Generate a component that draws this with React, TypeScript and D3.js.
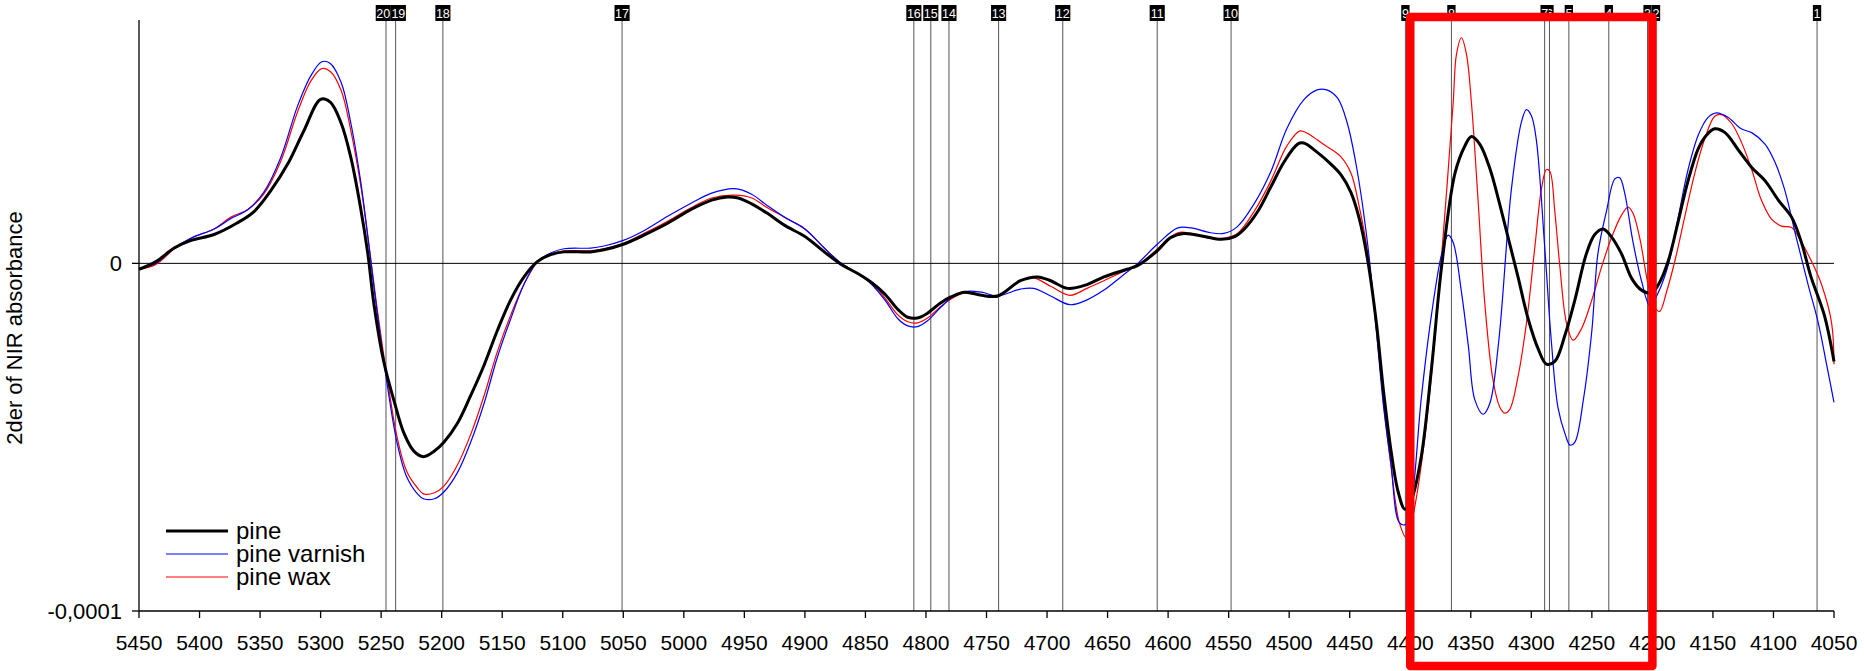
import React from 'react';
import * as d3 from 'd3';

const W = 1864;
const H = 671;
const UNIT = 1e-6;

// [wavenumber, value in 1e-6 units]
const pine: [number, number][] = [
  [5450, -1.7], [5436, 0.5], [5421, 4.4], [5407, 6.6], [5388, 8.3], [5369, 11.6], [5355, 14.9], [5341, 21],
  [5327, 28.7], [5314, 38], [5300, 47.2], [5292, 46.4], [5283, 40.3], [5275, 30.4], [5267, 16], [5261, 2.8],
  [5256, -11.6], [5248, -28], [5239, -40], [5231, -49], [5223, -54], [5215, -55.6], [5206, -54], [5198, -51.4],
  [5187, -46], [5176, -38], [5165, -29.3], [5154, -19.3], [5143, -10.5], [5132, -3.9], [5121, 0.5], [5110, 2.5],
  [5099, 3.3], [5077, 3.3], [5066, 3.9], [5050, 5.5], [5033, 8.1], [5013, 11.6], [4994, 15.5], [4977, 18.2],
  [4964, 19.1], [4955, 18.8], [4944, 17.1], [4931, 14.4], [4917, 11], [4900, 7.7], [4884, 3.3], [4870, -0.3],
  [4856, -3], [4845, -5.5], [4834, -8.8], [4823, -13.3], [4815, -15.5], [4807, -15.7], [4799, -14.4], [4788, -11.4],
  [4779, -9.6], [4768, -8.3], [4754, -9.2], [4741, -9.4], [4722, -5], [4708, -3.9], [4697, -5], [4683, -7.2],
  [4667, -6.1], [4653, -3.9], [4634, -1.7], [4625, -0.6], [4609, 3.6], [4598, 7.4], [4587, 8.6], [4570, 7.7],
  [4556, 6.9], [4545, 7.7], [4537, 9.9], [4526, 14.9], [4515, 22.1], [4504, 29.3], [4493, 34.3], [4488, 34.6],
  [4477, 32], [4466, 28.7], [4457, 25.4], [4449, 20.4], [4442, 12.7], [4435, 0.6], [4428, -17.1], [4422, -37],
  [4416, -53.6], [4410, -65.7], [4404.5, -70.7], [4399, -68], [4391, -55.8], [4382.5, -30.4], [4374, -0.6], [4363, 26],
  [4355, 33.7], [4349.5, 36.5], [4342.6, 34.3], [4334, 27], [4327, 18.2], [4319, 7.2], [4311, -3.9], [4302.6, -16],
  [4294, -24.9], [4287.5, -29], [4280.6, -28.2], [4272, -20.4], [4264, -10.5], [4254.5, 2.8], [4247.6, 8.3], [4240.7, 9.9],
  [4234, 7.7], [4225.6, 2.8], [4217, -4.4], [4209, -7.7], [4200.8, -8.5], [4195, -6.1], [4187, 0.6], [4179, 11.6],
  [4170.5, 23.8], [4162, 33.1], [4155, 37], [4148.5, 38.7], [4140, 37.6], [4129, 32.6], [4118, 27.6], [4107, 23.8],
  [4096, 18.2], [4085, 13.3], [4077, 6.1], [4069, -3.9], [4058, -14.9], [4050, -28.2],
];

const pineVarnish: [number, number][] = [
  [5450, -1.7], [5436, 0], [5421, 4.4], [5406, 7.4], [5388, 9.9], [5374, 12.9], [5360, 15.5], [5347, 20.4],
  [5333, 30.4], [5319, 45.3], [5308, 54], [5299, 58], [5292, 57.5], [5283, 52], [5275, 40.3], [5267, 23.8],
  [5260, 5], [5253, -14.9], [5245, -34.8], [5237, -51.4], [5229, -61.3], [5220, -66.3], [5215, -67.7], [5206, -67.7],
  [5198, -65.7], [5187, -60.2], [5176, -51.4], [5165, -40.3], [5154, -27], [5143, -16], [5132, -6], [5121, 0.5],
  [5110, 3], [5099, 4.2], [5077, 4.4], [5066, 5], [5050, 6.6], [5033, 9.4], [5013, 13.6], [4994, 17.3],
  [4977, 20.2], [4958, 21.5], [4944, 19.9], [4931, 16.6], [4917, 13.3], [4900, 9.9], [4884, 4.4], [4870, 0],
  [4856, -3], [4845, -6], [4834, -10.5], [4823, -16], [4815, -18], [4807, -18.2], [4799, -16.6], [4788, -12.7],
  [4779, -9.9], [4768, -8.1], [4754, -8.3], [4741, -9.4], [4722, -7.4], [4711, -7.2], [4697, -9.4], [4681, -11.9],
  [4667, -10.5], [4653, -7.7], [4639, -3.9], [4625, 0], [4609, 5.5], [4592, 10.2], [4581, 10.2], [4565, 8.8],
  [4554, 8.6], [4543, 10.5], [4529, 17.1], [4515, 26.5], [4502, 38.7], [4488, 47], [4477, 49.9], [4469, 49.9],
  [4460, 47.5], [4452, 40.3], [4444, 27], [4435, 5], [4428, -19.3], [4422, -41.4], [4416, -57.5], [4409, -74.6],
  [4404, -75.1], [4399, -69], [4391, -39.2], [4382.5, -14.9], [4374, 2.8], [4368.7, 8.1], [4364.6, 6.1], [4357.7, -8.3],
  [4352, -23.8], [4346.7, -39.2], [4339.8, -43.4], [4334.3, -40.3], [4327, -22.7], [4316.4, 21.5], [4308, 40.9], [4304, 44.2],
  [4300, 42.5], [4296, 35.9], [4289, 5], [4283.4, -22.7], [4278, -41.4], [4272, -49.2], [4268, -52.3], [4264, -51.4],
  [4257, -39.2], [4250, -19.3], [4245, 2.8], [4238, 14.9], [4231, 24.3], [4227, 24.6], [4223, 20.4], [4216, 6.1],
  [4209, -5], [4202, -12.2], [4195, -8.3], [4187, -0.6], [4179, 12.7], [4170.5, 27], [4162, 37], [4154, 42],
  [4147, 43.3], [4137.6, 42], [4126.6, 38.7], [4118, 37.6], [4107, 34.3], [4099, 29.3], [4091, 21.5], [4081, 7.2],
  [4071.4, -6.1], [4063, -17.1], [4056, -29.3], [4050, -40],
];

const pineWax: [number, number][] = [
  [5450, -1.7], [5436, -0.3], [5421, 4.1], [5406, 7.4], [5388, 9.9], [5374, 13.3], [5360, 15.5], [5347, 19.9],
  [5333, 29.3], [5319, 43.6], [5308, 52.5], [5299, 56], [5292, 55.2], [5283, 49.7], [5275, 38.1], [5267, 22.7],
  [5260, 5], [5253, -13.8], [5245, -33], [5237, -49.7], [5229, -59.7], [5220, -64.6], [5215, -66.3], [5206, -66],
  [5198, -64], [5187, -58], [5176, -49.2], [5165, -38.1], [5154, -25.4], [5143, -14.9], [5132, -6], [5121, 0.3],
  [5110, 2.6], [5099, 3.6], [5077, 3.6], [5066, 4.2], [5050, 5.7], [5033, 8.6], [5013, 12.2], [4994, 16],
  [4977, 18.8], [4958, 19.6], [4944, 18.8], [4931, 16], [4917, 13.3], [4900, 9.9], [4884, 4.4], [4870, 0],
  [4856, -3], [4845, -5.5], [4834, -9.9], [4823, -14.9], [4815, -16.8], [4807, -17.1], [4799, -15.8], [4788, -12.5],
  [4779, -10.2], [4768, -8.5], [4754, -9.2], [4741, -9.7], [4722, -5], [4711, -4.2], [4697, -6.6], [4681, -9.2],
  [4667, -7.2], [4653, -5], [4634, -1.9], [4625, -0.6], [4609, 4.1], [4592, 8.8], [4581, 8.6], [4565, 7.2],
  [4554, 7.2], [4543, 8.5], [4529, 14.9], [4515, 23.8], [4502, 33.7], [4491, 38.1], [4483, 37], [4472, 34.3],
  [4458, 30.9], [4449, 26], [4442, 16], [4435, 2.8], [4428, -18.2], [4422, -40.3], [4416, -58], [4409, -74.6],
  [4403, -79], [4397.6, -72.4], [4388, -50.3], [4380, -22.7], [4371.5, 13.8], [4364.6, 45.9], [4361.8, 60.2], [4357.7, 64.9],
  [4353.6, 60.2], [4349.4, 45.9], [4344, 18.2], [4338.4, -11.6], [4331.6, -33.7], [4326, -41.4], [4322, -43.1], [4317.8, -42],
  [4311, -32.6], [4304, -17.1], [4297, 5], [4291.6, 21.5], [4287.5, 27], [4284.7, 26.5], [4280.6, 14.9], [4276.5, -0.6],
  [4271, -17.1], [4265.5, -22.1], [4258.6, -18.8], [4250, -10.5], [4242, -1.1], [4234, 7.2], [4225.6, 13.8], [4220, 16.2],
  [4216, 14.4], [4210.4, 7.2], [4203.5, -6.1], [4198, -12.7], [4194, -13.8], [4188.4, -8.3], [4181.5, 0.6], [4173, 13.8],
  [4165, 25.9], [4156.7, 35.9], [4148.5, 42.3], [4143, 42.8], [4134.7, 40.3], [4126.4, 34.8], [4118, 27], [4110, 18.2],
  [4101.6, 12.7], [4093.4, 10.7], [4085, 10.3], [4076.9, 6.1], [4068.6, 0.6], [4060.3, -6.1], [4052, -17.1], [4050, -29],
];

const xTickValues = [5450, 5400, 5350, 5300, 5250, 5200, 5150, 5100, 5050, 5000, 4950, 4900, 4850, 4800, 4750, 4700, 4650, 4600, 4550, 4500, 4450, 4400, 4350, 4300, 4250, 4200, 4150, 4100, 4050];
const yTickValues = [0, -0.0001];
const yTickLabels = ['0', '-0,0001'];
const markerIds = ['1', '2', '3', '4', '5', '6', '7', '8', '9', '10', '11', '12', '13', '14', '15', '16', '17', '18', '19', '20'];
const markerWn = [4064, 4197, 4204, 4236, 4269, 4285, 4289, 4366, 4404, 4548, 4609, 4687, 4740, 4781, 4796, 4810, 5051, 5199, 5238, 5246];
const legendLabels = ['pine', 'pine varnish', 'pine wax'];
const seriesColors = ['#000000', '#0000ff', '#ff0000'];
const seriesWidths = [3, 1.2, 1.2];
const highlightWn = [4400, 4200];
const yAxisTitle = '2der of NIR absorbance';

const FONT = '"Liberation Sans", Arial, Helvetica, sans-serif';

export default function App() {
  const left = 139, right = 1834, top = 20, bottom = 611;
  const x = d3.scaleLinear().domain([5450, 4050]).range([left, right]);
  const y = d3.scaleLinear().domain([-0.0001, 0.00007]).range([bottom, top]);
  const line = d3.line<[number, number]>()
    .x(d => x(d[0]))
    .y(d => y(d[1] * UNIT))
    .curve(d3.curveCatmullRom.alpha(0.5));
  const series = [pine, pineVarnish, pineWax];
  const drawOrder = [2, 1, 0];

  const boxTop = 5, boxBottom = 21;

  // marker label layout: push apart overlapping two-digit labels (drawn in marker order)
  const labels = markerWn.map((wn, i) => {
    const t = markerIds[i];
    return { idx: i, t, cx: x(wn), w: t.length * 6.8 + 1.5 };
  });
  const sorted = [...labels].sort((a, b) => a.cx - b.cx);
  for (let k = 1; k < sorted.length; k++) {
    const a = sorted[k - 1], b = sorted[k];
    if (a.t.length > 1 && b.t.length > 1) {
      const overlap = (a.w + b.w) / 2 - (b.cx - a.cx);
      if (overlap > 0) {
        a.cx -= overlap / 2;
        b.cx += overlap / 2;
      }
    }
  }

  return (
    <svg width={W} height={H} style={{ position: 'absolute', left: 0, top: 0, background: '#fff' }} fontFamily={FONT}>
      <rect x={0} y={0} width={W} height={H} fill="#fff" />
      {/* marker lines */}
      {markerWn.map((wn, i) => (
        <line key={'ml' + i} x1={x(wn)} x2={x(wn)} y1={boxBottom} y2={bottom} stroke="#555" strokeWidth={1} />
      ))}
      {/* zero line */}
      <line x1={left} x2={right} y1={y(0)} y2={y(0)} stroke="#000" strokeWidth={1} />
      {/* series */}
      {drawOrder.map(i => (
        <path key={'s' + i} d={line(series[i]) || ''} fill="none" stroke={seriesColors[i]} strokeWidth={seriesWidths[i]} strokeLinejoin="round" />
      ))}
      {/* axes */}
      <line x1={left} x2={left} y1={top} y2={bottom} stroke="#000" strokeWidth={1.3} />
      <line x1={left} x2={right} y1={bottom} y2={bottom} stroke="#000" strokeWidth={1.3} />
      {xTickValues.map(v => (
        <g key={'xt' + v}>
          <line x1={x(v)} x2={x(v)} y1={bottom} y2={bottom + 7} stroke="#000" strokeWidth={1.3} />
          <text x={x(v)} y={bottom + 39} textAnchor="middle" fontSize={21} fill="#000">{v}</text>
        </g>
      ))}
      {yTickValues.map((v, i) => (
        <g key={'yt' + i}>
          <line x1={left - 7} x2={left} y1={y(v)} y2={y(v)} stroke="#000" strokeWidth={1.3} />
          <text x={left - 17} y={y(v) + 8} textAnchor="end" fontSize={22} fill="#000">{yTickLabels[i]}</text>
        </g>
      ))}
      <text transform={`translate(22, 328) rotate(-90)`} textAnchor="middle" fontSize={22} fill="#000">{yAxisTitle}</text>
      {/* marker labels */}
      {labels.map(l => (
        <g key={'mb' + l.idx}>
          <rect x={l.cx - l.w / 2} y={boxTop} width={l.w} height={boxBottom - boxTop} fill="#000" />
          <text x={l.cx} y={boxBottom - 3.5} textAnchor="middle" fontSize={12.5} fill="#fff">{l.t}</text>
        </g>
      ))}
      {/* legend */}
      {legendLabels.map((lab, i) => (
        <g key={'lg' + i}>
          <line x1={166} x2={228} y1={531 + i * 23} y2={531 + i * 23} stroke={seriesColors[i]} strokeWidth={i === 0 ? 3 : 1.2} />
          <text x={236} y={531 + i * 23 + 8} fontSize={24} fill="#000">{lab}</text>
        </g>
      ))}
      {/* highlight box */}
      <rect x={x(highlightWn[0])} y={17} width={x(highlightWn[1]) - x(highlightWn[0])} height={666 - 17}
        fill="none" stroke="#ff0000" strokeWidth={8.5} strokeLinejoin="round" />
    </svg>
  );
}
